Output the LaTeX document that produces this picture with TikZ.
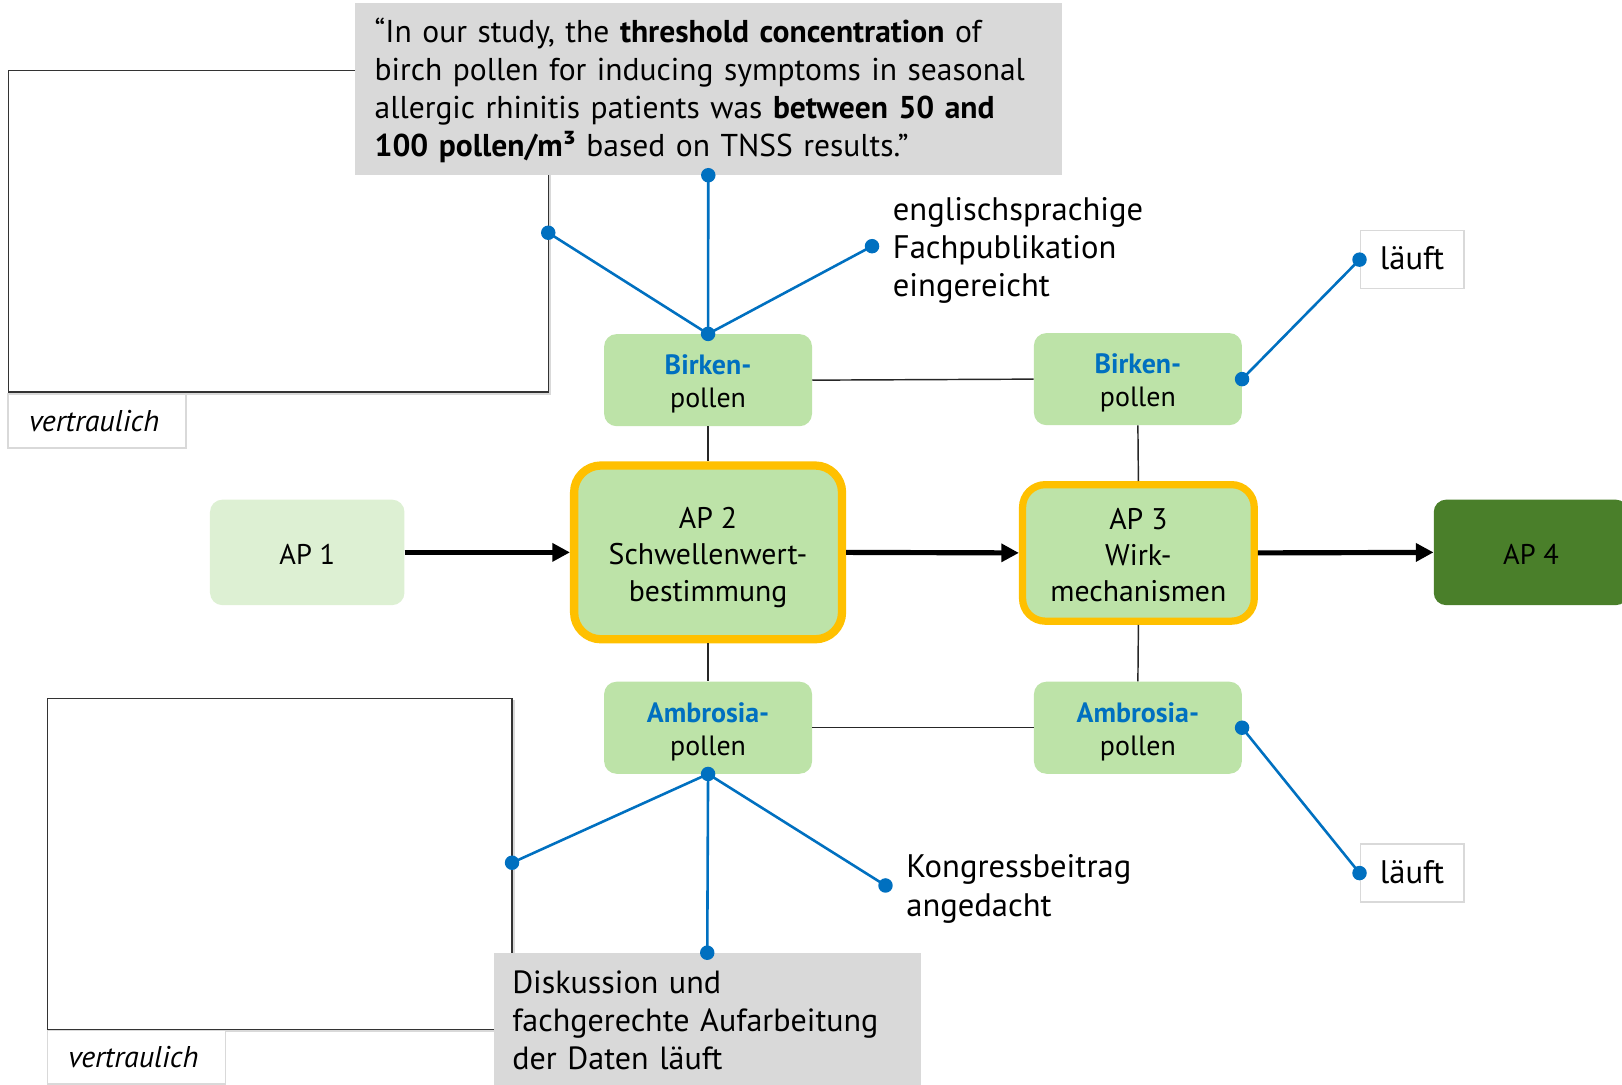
\documentclass[tikz,border=0pt]{standalone}
\usepackage{fontspec}
\setmainfont{PT Sans}
\usetikzlibrary{arrows.meta}
\definecolor{lg}{HTML}{BDE3A8}
\definecolor{vlg}{HTML}{DDF0D3}
\definecolor{dg}{HTML}{4A7F2A}
\definecolor{apor}{HTML}{FFC000}
\definecolor{bblue}{HTML}{0070C0}
\definecolor{gbx}{HTML}{D9D9D9}
\newcommand{\sA}{\rule[-7pt]{0pt}{38pt}}
\newcommand{\sB}{\rule[-8pt]{0pt}{36pt}}
\newcommand{\pT}{\rule{0pt}{28pt}}
\newcommand{\pD}{\rule[-7pt]{0pt}{7pt}}
\tikzset{
  pbox/.style={fill=lg, rounded corners=12pt, minimum width=201pt, minimum height=89pt, align=center, inner sep=0pt, font=\fontsize{27pt}{32pt}\selectfont},
  apbox/.style={fill=lg, draw=apor, align=center, inner sep=0pt, font=\fontsize{28.8pt}{35pt}\selectfont},
  endbox/.style={rounded corners=12pt, minimum width=188pt, minimum height=102pt, inner sep=0pt, font=\fontsize{27.5pt}{32pt}\selectfont},
  flow/.style={line width=5pt, -{Triangle[length=17pt,width=17pt]}},
  link/.style={line width=1.4pt, draw=black!85},
  bl/.style={draw=bblue, line width=2.5pt},
  gbox/.style={fill=gbx, align=left, inner ysep=0pt},
  wbox/.style={draw=black!80, line width=1.3pt},
  wshadow/.style={draw=black!15, line width=2pt},
  tagbox/.style={draw=black!15, line width=1.5pt, fill=white, minimum width=172pt, minimum height=52pt, inner sep=0pt, font=\fontsize{29pt}{30pt}\selectfont\itshape},
  plain/.style={align=left, inner sep=0pt, font=\fontsize{31.5pt}{37pt}\selectfont},
  lbox/.style={draw=black!15, line width=1.5pt, minimum width=100pt, minimum height=56pt, inner sep=0pt, font=\fontsize{31.5pt}{32pt}\selectfont}
}
\begin{document}
\begin{tikzpicture}[x=1pt,y=-1pt]
\useasboundingbox (0,0) rectangle (1568,1048);
\clip (0,0) rectangle (1568,1048);

% white placeholder frames
\draw[wshadow] (532,70) -- (532,381) -- (10,381);
\draw[wbox] (8,68) rectangle (530,379);
\node[tagbox] (v1) at (94,407) {\sB vertraulich\hspace*{6pt}};

\draw[wshadow] (497,677) -- (497,997) -- (48,997);
\draw[wbox] (46,675) rectangle (495,995);
\node[tagbox] (v2) at (132,1022) {\sB vertraulich\hspace*{6pt}};

% grey boxes
\node[gbox, font=\fontsize{30.5pt}{37pt}\selectfont, anchor=north west, text width=645pt, inner xsep=19pt, minimum height=166pt] (q) at (343,3)
  {\sB“In our study, the \textbf{threshold concentration} of\\
   birch pollen for inducing symptoms in seasonal\\
   allergic rhinitis patients was \textbf{between 50 and}\\
   \textbf{100 pollen/m³} based on TNSS results.”\sB};
\node[gbox, font=\fontsize{31pt}{37pt}\selectfont, anchor=north west, text width=377pt, inner xsep=18pt, minimum height=132pt] (dk) at (477,921)
  {\sB Diskussion und\\ fachgerechte Aufarbeitung\\ der Daten läuft\sB};

% main work packages
\node[endbox, fill=vlg] (ap1) at (297,534) {\sA AP 1};
\node[apbox, line width=8pt, rounded corners=26pt, minimum width=259pt, minimum height=168pt] (ap2) at (684.5,534) {\sA AP 2\\ Schwellenwert-\\ bestimmung\sA};
\node[apbox, line width=7pt, rounded corners=22pt, minimum width=224pt, minimum height=132pt] (ap3) at (1100.5,534.5) {\sA AP 3\\ Wirk-\\ mechanismen\sA};
\node[endbox, fill=dg] (ap4) at (1480,534) {\sA AP 4};

% pollen boxes
\node[pbox] (bL) at (684.5,367.5) {\pT{\bfseries\color{bblue}Birken-}\\ pollen\pD};
\node[pbox] (bR) at (1100,366.5) {\pT{\bfseries\color{bblue}Birken-}\\ pollen\pD};
\node[pbox] (aL) at (684.5,703.5) {\pT{\bfseries\color{bblue}Ambrosia-}\\ pollen\pD};
\node[pbox] (aR) at (1100,703.5) {\pT{\bfseries\color{bblue}Ambrosia-}\\ pollen\pD};

% thin links
\draw[link] (bL.south) -- (ap2.north);
\draw[link] (ap2.south) -- (aL.north);
\draw[link] (bR.south) -- (ap3.north);
\draw[link] (ap3.south) -- (aR.north);
\draw[link] (bL.east) -- (bR.west);
\draw[link] (aL.east) -- (aR.west);

% flow arrows
\draw[flow] (ap1.east) -- (ap2.west);
\draw[flow] (ap2.east) -- (ap3.west);
\draw[flow] (ap3.east) -- (ap4.west);

% annotations
\node[plain, anchor=west] (eng) at (863,240) {\sB englischsprachige\\ Fachpublikation\\ eingereicht\sB};
\node[plain, anchor=west] (kon) at (876,857) {\sB Kongressbeitrag\\ angedacht\sB};
\node[lbox] (l1) at (1365,251) {\sB läuft};
\node[lbox] (l2) at (1365,844) {\sB läuft};

\coordinate (d1) at (530,225);
\coordinate (d2) at (843,238);
\coordinate (d3) at (495,834);
\coordinate (d4) at (856,856);

\draw[bl] (bL.north) -- (d1);
\draw[bl] (bL.north) -- (q.south);
\draw[bl] (bL.north) -- (d2);
\draw[bl] (aL.south) -- (d3);
\draw[bl] (aL.south) -- (dk.north);
\draw[bl] (aL.south) -- (d4);
\draw[bl] (bR.east) -- (l1.west);
\draw[bl] (aR.east) -- (l2.west);

\foreach \p in {d1,d2,d3,d4,bL.north,q.south,aL.south,dk.north,bR.east,aR.east,l1.west,l2.west}
  \fill[bblue] (\p) circle (7pt);
\end{tikzpicture}
\end{document}
